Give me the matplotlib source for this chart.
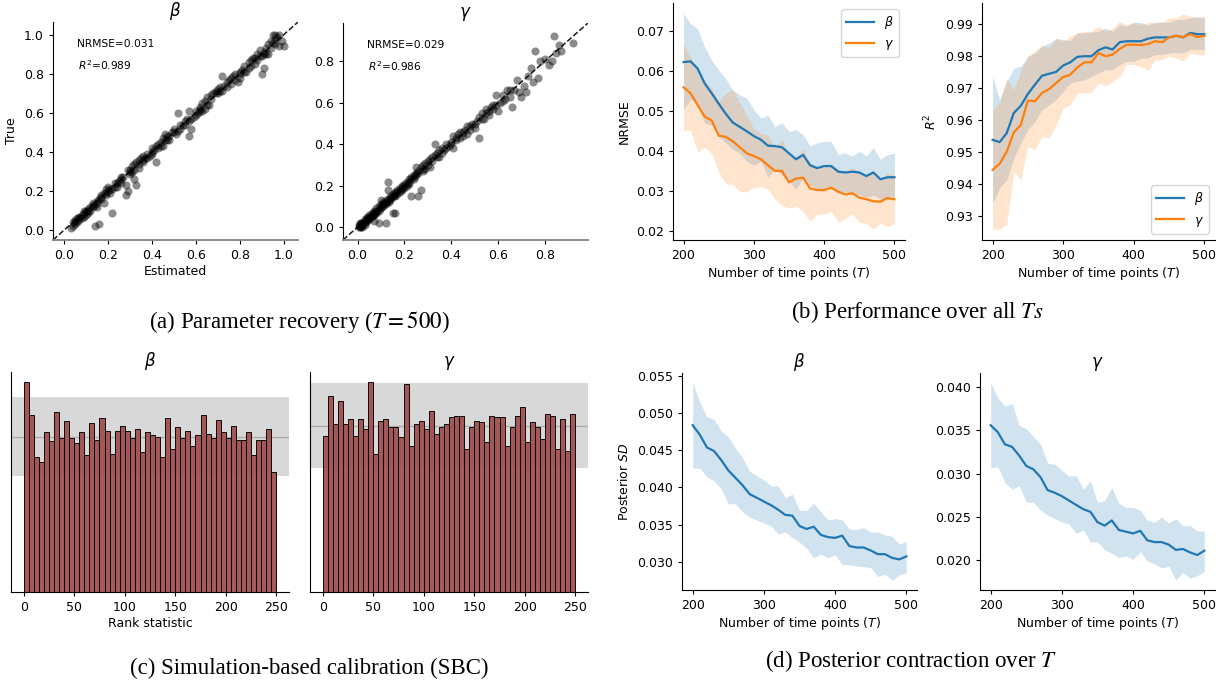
import matplotlib
matplotlib.use("Agg")
import matplotlib.pyplot as plt
import numpy as np

# --- data -------------------------------------------------------------
T = [200, 210, 220, 230, 240, 250, 260, 270, 280, 290, 300, 310, 320, 330, 340, 350,
     360, 370, 380, 390, 400, 410, 420, 430, 440, 450, 460, 470, 480, 490, 500]

# (a) parameter recovery, T = 500
beta_est = [0.03, 0.04, 0.04, 0.05, 0.05, 0.06, 0.06, 0.07, 0.07, 0.08,
            0.08, 0.09, 0.09, 0.10, 0.10, 0.11, 0.11, 0.12, 0.12, 0.13,
            0.13, 0.14, 0.14, 0.15, 0.15, 0.16, 0.16, 0.17, 0.17, 0.18,
            0.18, 0.19, 0.19, 0.20, 0.20, 0.21, 0.22, 0.22, 0.23, 0.24,
            0.25, 0.26, 0.27, 0.28, 0.28, 0.29, 0.29, 0.30, 0.30, 0.31,
            0.31, 0.32, 0.32, 0.33, 0.33, 0.34, 0.34, 0.35, 0.36, 0.37,
            0.38, 0.39, 0.40, 0.40, 0.41, 0.42, 0.42, 0.43, 0.44, 0.45,
            0.45, 0.46, 0.47, 0.47, 0.48, 0.49, 0.50, 0.51, 0.52, 0.52,
            0.53, 0.54, 0.55, 0.56, 0.57, 0.57, 0.58, 0.58, 0.59, 0.60,
            0.61, 0.62, 0.63, 0.63, 0.64, 0.64, 0.65, 0.66, 0.67, 0.68,
            0.69, 0.70, 0.71, 0.72, 0.72, 0.73, 0.74, 0.75, 0.76, 0.77,
            0.78, 0.79, 0.80, 0.80, 0.81, 0.82, 0.83, 0.84, 0.85, 0.86,
            0.87, 0.88, 0.88, 0.89, 0.90, 0.90, 0.91, 0.91, 0.92, 0.93,
            0.93, 0.94, 0.95, 0.95, 0.96, 0.96, 0.97, 0.98, 0.98, 1.00,
            0.99, 0.26, 0.36, 0.44, 0.53, 0.62, 0.70, 0.76, 0.85, 0.92,
            0.05, 0.07, 0.09, 0.11, 0.13, 0.15, 0.17, 0.19, 0.21, 0.23,
            0.24, 0.26, 0.30, 0.32, 0.34, 0.36, 0.38, 0.40, 0.43, 0.46,
            0.48, 0.50, 0.55, 0.57, 0.60, 0.62, 0.65, 0.67, 0.69, 0.71,
            0.74, 0.78, 0.80, 0.82, 0.84, 0.87, 0.89, 0.91, 0.94, 0.96]
beta_true = [0.01, 0.02, 0.04, 0.03, 0.05, 0.06, 0.04, 0.07, 0.05, 0.08,
             0.06, 0.09, 0.07, 0.10, 0.08, 0.11, 0.09, 0.12, 0.10, 0.12,
             0.14, 0.13, 0.02, 0.15, 0.12, 0.16, 0.03, 0.17, 0.18, 0.14,
             0.19, 0.18, 0.21, 0.20, 0.22, 0.19, 0.09, 0.21, 0.22, 0.24,
             0.25, 0.24, 0.27, 0.18, 0.23, 0.20, 0.31, 0.29, 0.31, 0.30,
             0.33, 0.26, 0.34, 0.23, 0.35, 0.36, 0.32, 0.37, 0.36, 0.37,
             0.37, 0.38, 0.39, 0.42, 0.41, 0.35, 0.43, 0.42, 0.45, 0.43,
             0.47, 0.49, 0.46, 0.48, 0.46, 0.50, 0.52, 0.49, 0.51, 0.60,
             0.52, 0.54, 0.56, 0.57, 0.48, 0.61, 0.52, 0.57, 0.58, 0.59,
             0.60, 0.63, 0.61, 0.65, 0.66, 0.62, 0.68, 0.64, 0.69, 0.70,
             0.71, 0.70, 0.73, 0.79, 0.71, 0.74, 0.76, 0.77, 0.75, 0.79,
             0.80, 0.76, 0.81, 0.78, 0.82, 0.84, 0.81, 0.86, 0.84, 0.88,
             0.85, 0.90, 0.87, 0.92, 0.80, 0.89, 0.83, 0.91, 0.93, 0.95,
             0.90, 0.97, 1.00, 0.96, 0.98, 1.00, 0.99, 0.94, 1.00, 0.94,
             0.97, 0.26, 0.38, 0.43, 0.54, 0.61, 0.72, 0.78, 0.87, 0.90,
             0.04, 0.06, 0.10, 0.10, 0.13, 0.14, 0.16, 0.19, 0.21, 0.24,
             0.22, 0.27, 0.30, 0.31, 0.34, 0.35, 0.39, 0.40, 0.44, 0.46,
             0.48, 0.50, 0.54, 0.56, 0.61, 0.62, 0.64, 0.67, 0.70, 0.71,
             0.73, 0.77, 0.80, 0.81, 0.83, 0.88, 0.89, 0.90, 0.93, 0.95]

gamma_est = [0.005, 0.01, 0.01, 0.015, 0.02, 0.02, 0.005, 0.01, 0.02, 0.025,
             0.03, 0.03, 0.035, 0.04, 0.04, 0.045, 0.05, 0.05, 0.055, 0.06,
             0.06, 0.065, 0.07, 0.07, 0.075, 0.08, 0.08, 0.085, 0.09, 0.09,
             0.09, 0.095, 0.10, 0.10, 0.105, 0.11, 0.11, 0.115, 0.12, 0.12,
             0.12, 0.125, 0.13, 0.13, 0.13, 0.135, 0.14, 0.14, 0.145, 0.15,
             0.15, 0.155, 0.16, 0.16, 0.17, 0.17, 0.18, 0.18, 0.19, 0.19,
             0.20, 0.20, 0.21, 0.21, 0.22, 0.22, 0.23, 0.23, 0.24, 0.24,
             0.25, 0.25, 0.26, 0.26, 0.27, 0.27, 0.28, 0.28, 0.29, 0.30,
             0.31, 0.31, 0.32, 0.33, 0.33, 0.34, 0.35, 0.36, 0.37, 0.38,
             0.39, 0.40, 0.41, 0.41, 0.42, 0.43, 0.44, 0.45, 0.46, 0.47,
             0.48, 0.49, 0.50, 0.51, 0.52, 0.52, 0.53, 0.54, 0.55, 0.56,
             0.57, 0.58, 0.59, 0.59, 0.60, 0.61, 0.62, 0.63, 0.64, 0.65,
             0.66, 0.67, 0.68, 0.69, 0.70, 0.71, 0.72, 0.73, 0.74, 0.75,
             0.76, 0.77, 0.78, 0.80, 0.82, 0.83, 0.84, 0.85, 0.86, 0.87,
             0.92, 0.16, 0.07, 0.03, 0.015, 0.55, 0.47, 0.35, 0.44, 0.29,
             0.01, 0.02, 0.03, 0.04, 0.05, 0.06, 0.07, 0.08, 0.10, 0.11,
             0.12, 0.14, 0.15, 0.16, 0.17, 0.18, 0.19, 0.20, 0.21, 0.22,
             0.23, 0.24, 0.25, 0.26, 0.28, 0.30, 0.32, 0.34, 0.36, 0.38,
             0.40, 0.42, 0.45, 0.48, 0.50, 0.53, 0.56, 0.58, 0.62, 0.65]
gamma_true = [0.00, 0.00, 0.01, 0.00, 0.01, 0.02, 0.01, 0.005, 0.00, 0.02,
              0.02, 0.04, 0.03, 0.03, 0.05, 0.04, 0.06, 0.04, 0.05, 0.07,
              0.05, 0.06, 0.08, 0.06, 0.07, 0.09, 0.07, 0.08, 0.02, 0.10,
              0.08, 0.09, 0.13, 0.09, 0.10, 0.12, 0.10, 0.11, 0.02, 0.13,
              0.11, 0.12, 0.22, 0.18, 0.13, 0.12, 0.15, 0.13, 0.14, 0.07,
              0.16, 0.15, 0.17, 0.15, 0.16, 0.18, 0.17, 0.19, 0.18, 0.20,
              0.21, 0.19, 0.20, 0.22, 0.23, 0.21, 0.15, 0.24, 0.25, 0.23,
              0.26, 0.29, 0.15, 0.27, 0.18, 0.29, 0.30, 0.27, 0.31, 0.32,
              0.33, 0.29, 0.34, 0.40, 0.35, 0.36, 0.37, 0.38, 0.37, 0.40,
              0.39, 0.41, 0.38, 0.44, 0.42, 0.45, 0.46, 0.44, 0.47, 0.45,
              0.49, 0.50, 0.48, 0.51, 0.43, 0.53, 0.55, 0.52, 0.57, 0.54,
              0.58, 0.57, 0.64, 0.59, 0.56, 0.60, 0.64, 0.62, 0.66, 0.63,
              0.58, 0.66, 0.71, 0.65, 0.63, 0.68, 0.65, 0.73, 0.77, 0.70,
              0.85, 0.72, 0.80, 0.81, 0.78, 0.80, 0.92, 0.84, 0.88, 0.85,
              0.89, 0.07, 0.03, 0.01, 0.02, 0.55, 0.49, 0.34, 0.43, 0.28,
              0.02, 0.015, 0.03, 0.04, 0.05, 0.06, 0.07, 0.08, 0.11, 0.11,
              0.12, 0.14, 0.15, 0.16, 0.17, 0.18, 0.19, 0.20, 0.21, 0.22,
              0.23, 0.24, 0.25, 0.26, 0.28, 0.30, 0.32, 0.34, 0.36, 0.38,
              0.40, 0.43, 0.46, 0.47, 0.50, 0.52, 0.56, 0.59, 0.61, 0.66]

# (b) performance over all T
nrmse_beta = [0.0623, 0.0625, 0.0607, 0.0570, 0.0545, 0.0519, 0.0494, 0.0472, 0.0461, 0.0450,
              0.0438, 0.0429, 0.0414, 0.0413, 0.0410, 0.0395, 0.0380, 0.0391, 0.0365, 0.0358,
              0.0363, 0.0363, 0.0349, 0.0347, 0.0349, 0.0347, 0.0338, 0.0347, 0.0330, 0.0335, 0.0335]
nrmse_beta_hi = [0.0744, 0.0719, 0.0707, 0.0661, 0.0628, 0.0603, 0.0582, 0.0553, 0.0541, 0.0533,
                 0.0504, 0.0483, 0.0491, 0.0462, 0.0471, 0.0450, 0.0454, 0.0442, 0.0413, 0.0421,
                 0.0425, 0.0425, 0.0392, 0.0396, 0.0388, 0.0400, 0.0388, 0.0409, 0.0380, 0.0392, 0.0395]
nrmse_beta_lo = [0.0505, 0.0530, 0.0520, 0.0470, 0.0465, 0.0440, 0.0420, 0.0405, 0.0395, 0.0375,
                 0.0365, 0.0375, 0.0335, 0.0355, 0.0340, 0.0325, 0.0305, 0.0335, 0.0315, 0.0305,
                 0.0305, 0.0310, 0.0295, 0.0300, 0.0295, 0.0290, 0.0285, 0.0290, 0.0280, 0.0285, 0.0285]
nrmse_gamma = [0.0560, 0.0545, 0.0516, 0.0487, 0.0477, 0.0439, 0.0436, 0.0425, 0.0410, 0.0395,
               0.0388, 0.0380, 0.0365, 0.0351, 0.0351, 0.0322, 0.0332, 0.0334, 0.0307, 0.0303,
               0.0303, 0.0309, 0.0299, 0.0292, 0.0295, 0.0284, 0.0280, 0.0275, 0.0274, 0.0283, 0.0280]
nrmse_gamma_hi = [0.0667, 0.0636, 0.0603, 0.0574, 0.0558, 0.0525, 0.0545, 0.0555, 0.0520, 0.0490,
                  0.0455, 0.0445, 0.0440, 0.0410, 0.0430, 0.0390, 0.0385, 0.0405, 0.0370, 0.0360,
                  0.0360, 0.0370, 0.0355, 0.0345, 0.0360, 0.0345, 0.0340, 0.0350, 0.0330, 0.0345, 0.0340]
nrmse_gamma_lo = [0.0452, 0.0452, 0.0398, 0.0410, 0.0395, 0.0348, 0.0318, 0.0318, 0.0300, 0.0298,
                  0.0310, 0.0312, 0.0305, 0.0280, 0.0265, 0.0258, 0.0262, 0.0250, 0.0225, 0.0243,
                  0.0243, 0.0250, 0.0222, 0.0232, 0.0243, 0.0222, 0.0220, 0.0205, 0.0220, 0.0212, 0.0218]

r2_beta = [0.9537, 0.9530, 0.9558, 0.9621, 0.9644, 0.9681, 0.9710, 0.9738, 0.9744, 0.9750,
           0.9770, 0.9780, 0.9797, 0.9799, 0.9799, 0.9818, 0.9827, 0.9820, 0.9843, 0.9846,
           0.9846, 0.9846, 0.9854, 0.9858, 0.9858, 0.9858, 0.9863, 0.9858, 0.9872, 0.9868, 0.9868]
r2_beta_hi = [0.9736, 0.9663, 0.9720, 0.9762, 0.9767, 0.9799, 0.9809, 0.9830, 0.9840, 0.9854,
              0.9851, 0.9848, 0.9872, 0.9872, 0.9875, 0.9877, 0.9887, 0.9877, 0.9898, 0.9893,
              0.9905, 0.9905, 0.9896, 0.9905, 0.9906, 0.9905, 0.9914, 0.9914, 0.9919, 0.9924, 0.9919]
r2_beta_lo = [0.9339, 0.9386, 0.9412, 0.9480, 0.9527, 0.9569, 0.9595, 0.9631, 0.9647, 0.9663,
              0.9689, 0.9715, 0.9720, 0.9725, 0.9736, 0.9746, 0.9757, 0.9757, 0.9773, 0.9783,
              0.9783, 0.9793, 0.9793, 0.9804, 0.9804, 0.9809, 0.9811, 0.9809, 0.9820, 0.9820, 0.9820]
r2_gamma = [0.9443, 0.9462, 0.9500, 0.9560, 0.9584, 0.9660, 0.9658, 0.9684, 0.9696, 0.9715,
            0.9734, 0.9741, 0.9764, 0.9780, 0.9780, 0.9809, 0.9799, 0.9804, 0.9822, 0.9835,
            0.9835, 0.9834, 0.9837, 0.9846, 0.9843, 0.9858, 0.9863, 0.9859, 0.9868, 0.9859, 0.9863]
r2_gamma_hi = [0.9632, 0.9655, 0.9731, 0.9694, 0.9752, 0.9799, 0.9814, 0.9835, 0.9825, 0.9856,
               0.9846, 0.9861, 0.9872, 0.9877, 0.9877, 0.9893, 0.9877, 0.9887, 0.9908, 0.9898,
               0.9905, 0.9898, 0.9905, 0.9905, 0.9905, 0.9919, 0.9919, 0.9932, 0.9924, 0.9919, 0.9924]
r2_gamma_lo = [0.9257, 0.9257, 0.9271, 0.9438, 0.9412, 0.9517, 0.9506, 0.9548, 0.9543, 0.9584,
               0.9637, 0.9647, 0.9684, 0.9684, 0.9686, 0.9715, 0.9707, 0.9720, 0.9736, 0.9773,
               0.9773, 0.9767, 0.9754, 0.9788, 0.9788, 0.9799, 0.9793, 0.9785, 0.9809, 0.9804, 0.9804]

# (c) SBC rank histograms (50 bins over ranks 0..250)
sbc_beta = [135, 114, 87, 84, 103, 97, 116, 99, 110, 99,
            96, 103, 88, 109, 98, 112, 104, 89, 104, 107,
            104, 99, 105, 90, 103, 101, 100, 87, 112, 92,
            106, 99, 104, 94, 101, 114, 102, 99, 111, 103,
            99, 107, 98, 98, 103, 88, 98, 98, 105, 77]
sbc_gamma = [94, 118, 101, 115, 101, 104, 94, 104, 98, 126,
             83, 103, 104, 99, 99, 93, 125, 88, 101, 103,
             98, 109, 95, 99, 101, 105, 106, 106, 86, 99,
             103, 102, 90, 106, 105, 105, 88, 99, 106, 111,
             90, 102, 99, 92, 107, 106, 86, 104, 85, 107]
sbc_expected = 100
sbc_band = (74.5, 125.5)

# (d) posterior contraction
sd_beta = [0.0484, 0.0471, 0.0454, 0.0449, 0.0437, 0.0423, 0.0413, 0.0403, 0.0391, 0.0386,
           0.0381, 0.0376, 0.0370, 0.0363, 0.0362, 0.0348, 0.0344, 0.0347, 0.0336, 0.0333,
           0.0332, 0.0335, 0.0321, 0.0319, 0.0319, 0.0315, 0.0310, 0.0310, 0.0305, 0.0303, 0.0307]
sd_beta_hi = [0.0541, 0.0515, 0.0495, 0.0492, 0.0476, 0.0468, 0.0453, 0.0440, 0.0422, 0.0416,
              0.0410, 0.0402, 0.0402, 0.0386, 0.0391, 0.0369, 0.0369, 0.0379, 0.0367, 0.0356,
              0.0358, 0.0356, 0.0344, 0.0343, 0.0346, 0.0340, 0.0340, 0.0336, 0.0334, 0.0324, 0.0327]
sd_beta_lo = [0.0426, 0.0426, 0.0414, 0.0409, 0.0398, 0.0378, 0.0378, 0.0367, 0.0360, 0.0356,
              0.0352, 0.0348, 0.0337, 0.0340, 0.0332, 0.0326, 0.0318, 0.0305, 0.0310, 0.0305,
              0.0309, 0.0296, 0.0296, 0.0294, 0.0293, 0.0292, 0.0280, 0.0283, 0.0275, 0.0282, 0.0285]
sd_gamma = [0.0356, 0.0348, 0.0334, 0.0331, 0.0321, 0.0309, 0.0305, 0.0296, 0.0281, 0.0278,
            0.0274, 0.0269, 0.0264, 0.0259, 0.0256, 0.0244, 0.0240, 0.0246, 0.0235, 0.0233,
            0.0231, 0.0234, 0.0223, 0.0221, 0.0221, 0.0218, 0.0212, 0.0213, 0.0209, 0.0206, 0.0211]
sd_gamma_hi = [0.0405, 0.0388, 0.0378, 0.0381, 0.0356, 0.0352, 0.0343, 0.0334, 0.0312, 0.0311,
               0.0304, 0.0297, 0.0298, 0.0282, 0.0292, 0.0267, 0.0269, 0.0284, 0.0266, 0.0261,
               0.0261, 0.0258, 0.0246, 0.0244, 0.0250, 0.0243, 0.0248, 0.0240, 0.0240, 0.0234, 0.0234]
sd_gamma_lo = [0.0307, 0.0308, 0.0290, 0.0282, 0.0286, 0.0267, 0.0267, 0.0258, 0.0252, 0.0248,
               0.0244, 0.0242, 0.0231, 0.0235, 0.0221, 0.0221, 0.0212, 0.0208, 0.0203, 0.0205,
               0.0201, 0.0210, 0.0199, 0.0196, 0.0191, 0.0193, 0.0177, 0.0186, 0.0179, 0.0182, 0.0187]

# --- style --------------------------------------------------------------
plt.rcParams["font.family"] = ["DejaVu Sans"]
plt.rcParams["xtick.labelsize"] = 9
plt.rcParams["ytick.labelsize"] = 9
plt.rcParams["axes.labelsize"] = 9
plt.rcParams["axes.titlesize"] = 12
plt.rcParams["axes.spines.top"] = False
plt.rcParams["axes.spines.right"] = False
plt.rcParams["xtick.major.size"] = 3
plt.rcParams["ytick.major.size"] = 3

BLUE = "#1f77b4"
ORANGE = "#ff7f0e"
XLAB_T = "Number of time points ($T$)"

fig = plt.figure(figsize=(12.3, 6.88), dpi=100)


def px_axes(left, top, right, bottom):
    # axes from pixel box of the 1230x688 canvas
    W, H = 1230.0, 688.0
    return fig.add_axes([left / W, 1 - bottom / H, (right - left) / W, (bottom - top) / H])


def recovery(ax, est, true, lims, title, nrmse, r2):
    ax.scatter(est, true, s=34, color="black", alpha=0.45, linewidths=0)
    ax.plot(lims, lims, color="black", linestyle="--", linewidth=1.1, alpha=0.9)
    ax.set_xlim(lims)
    ax.set_ylim(lims)
    ax.set_title(title, pad=3)
    ax.spines["bottom"].set_color("#8a8a8a")
    ax.spines["bottom"].set_linewidth(1.4)
    ax.text(0.1, 0.9, f"NRMSE={nrmse}", transform=ax.transAxes, fontsize=7.7, va="center")
    ax.text(0.1, 0.8, f"$R^2$={r2}", transform=ax.transAxes, fontsize=7.7, va="center")


def band(ax, x, mean, lo, hi, color, label=None):
    ax.fill_between(x, lo, hi, color=color, alpha=0.2, linewidth=0)
    ax.plot(x, mean, color=color, linewidth=1.6, label=label)


def sbc(ax, counts, title):
    edges = np.arange(0, 255, 5)
    ax.axhspan(sbc_band[0], sbc_band[1], facecolor="gray", alpha=0.3, linewidth=0, zorder=0)
    ax.axhline(sbc_expected, color="gray", alpha=0.5, linewidth=1, zorder=0.5)
    ax.bar(edges[:-1], counts, width=5, align="edge", color="#a34f4f", alpha=0.95,
           edgecolor="black", linewidth=0.7, zorder=2)
    ax.set_yticks([])
    ax.set_xticks([0, 50, 100, 150, 200, 250])
    ax.set_xlim(-12.5, 262.5)
    ax.set_ylim(0, max(counts) * 1.05)
    ax.set_title(title, pad=4)


# (a)
ax = px_axes(53, 22, 298, 240)
recovery(ax, beta_est, beta_true, (-0.05, 1.065), r"$\beta$", "0.031", "0.989")
ax.set_xlabel("Estimated", labelpad=2)
ax.set_ylabel("True")

ax = px_axes(343, 23, 588, 240)
recovery(ax, gamma_est, gamma_true, (-0.062, 0.985), r"$\gamma$", "0.029", "0.986")
ax.set_xticks([0.0, 0.2, 0.4, 0.6, 0.8])
ax.set_yticks([0.0, 0.2, 0.4, 0.6, 0.8])

# (b)
ax = px_axes(673, 3, 905, 240)
band(ax, T, nrmse_beta, nrmse_beta_lo, nrmse_beta_hi, BLUE, r"$\beta$")
band(ax, T, nrmse_gamma, nrmse_gamma_lo, nrmse_gamma_hi, ORANGE, r"$\gamma$")
ax.set_ylabel("NRMSE")
ax.set_xlabel(XLAB_T, labelpad=2)
ax.set_xticks([200, 300, 400, 500])
ax.legend(loc="upper right", fontsize=9, handlelength=2.2)

ax = px_axes(982, 3, 1215, 240)
band(ax, T, r2_beta, r2_beta_lo, r2_beta_hi, BLUE, r"$\beta$")
band(ax, T, r2_gamma, r2_gamma_lo, r2_gamma_hi, ORANGE, r"$\gamma$")
ax.set_ylabel("$R^2$")
ax.set_xlabel(XLAB_T, labelpad=2)
ax.set_xticks([200, 300, 400, 500])
ax.legend(loc="lower right", fontsize=9, handlelength=2.2)

# (c)
ax = px_axes(11, 372, 289, 592)
sbc(ax, sbc_beta, r"$\beta$")
ax.set_xlabel("Rank statistic", labelpad=2)

ax = px_axes(310, 372, 588, 592)
sbc(ax, sbc_gamma, r"$\gamma$")

# (d)
ax = px_axes(682, 373, 917, 590)
band(ax, T, sd_beta, sd_beta_lo, sd_beta_hi, BLUE)
ax.set_title(r"$\beta$", pad=4)
ax.set_ylabel("Posterior $SD$")
ax.set_xlabel(XLAB_T, labelpad=2)
ax.set_xticks([200, 300, 400, 500])

ax = px_axes(980, 373, 1215, 590)
band(ax, T, sd_gamma, sd_gamma_lo, sd_gamma_hi, BLUE)
ax.set_title(r"$\gamma$", pad=4)
ax.set_xlabel(XLAB_T, labelpad=2)
ax.set_xticks([200, 300, 400, 500])

# captions
cap = dict(fontsize=16.5, family="Liberation Serif", math_fontfamily="stix", ha="center", va="center")
fig.text(299 / 1230, 1 - 322 / 688, "(a) Parameter recovery ($T=500$)", **cap)
fig.text(918 / 1230, 1 - 312 / 688, "(b) Performance over all $Ts$", **cap)
fig.text(309 / 1230, 1 - 668 / 688, "(c) Simulation-based calibration (SBC)", **cap)
fig.text(911 / 1230, 1 - 661 / 688, "(d) Posterior contraction over $T$", **cap)

fig.savefig("out.png", dpi=100)
